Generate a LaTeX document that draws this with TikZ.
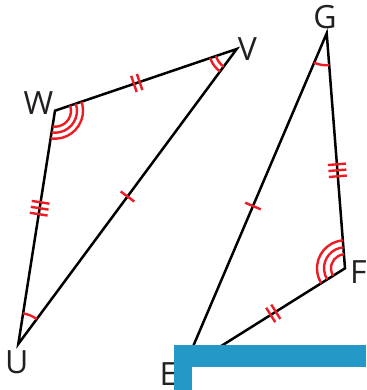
\documentclass[tikz,border=0pt]{standalone}
\usepackage{fontspec}
\setmainfont{Open Sans}
\usetikzlibrary{calc,angles}
\definecolor{mred}{RGB}{237,28,36}
\definecolor{mblue}{RGB}{36,153,199}
\definecolor{mtext}{RGB}{35,31,32}
% #1,#2 segment ends, #3 fraction, #4 shift along, #5 half length
\newcommand{\mytick}[5]{\draw[tickst] ($(#1)!#3!(#2)!#4!(#2)!#5!90:(#2)$) -- ($(#1)!#3!(#2)!#4!(#2)!#5!-90:(#2)$);}
\begin{document}
\begin{tikzpicture}[x=1pt,y=-1pt,
  tickst/.style={draw=mred, line width=2.4pt},
  edge/.style={draw=black, line width=2.5pt, line join=miter},
  arcst/.style={draw=mred, line width=2.4pt},
  lbl/.style={text=mtext, inner sep=0pt, font=\fontsize{32}{38}\selectfont}]
\useasboundingbox (0,0) rectangle (366,390);
\coordinate (W) at (55,110.7);
\coordinate (V) at (236.7,49);
\coordinate (U) at (18.3,344);
\coordinate (G) at (326.7,33.3);
\coordinate (F) at (345,268.3);
\coordinate (E) at (183,370);
% triangles
\draw[edge] (W) -- (V) -- (U) -- cycle;
\draw[edge] (G) -- (F) -- (E) -- cycle;
% angle marks
\pic[arcst, angle radius=16pt] {angle=U--W--V};
\pic[arcst, angle radius=22pt] {angle=U--W--V};
\pic[arcst, angle radius=28pt] {angle=U--W--V};
\pic[arcst, angle radius=22pt] {angle=W--V--U};
\pic[arcst, angle radius=28pt] {angle=W--V--U};
\pic[arcst, angle radius=31pt] {angle=V--U--W};
\pic[arcst, angle radius=32pt] {angle=E--G--F};
\pic[arcst, angle radius=14pt] {angle=G--F--E};
\pic[arcst, angle radius=21pt] {angle=G--F--E};
\pic[arcst, angle radius=28pt] {angle=G--F--E};
% tick marks
\mytick{U}{V}{0.5}{0pt}{8.5pt}
\mytick{W}{V}{0.45}{-3pt}{8.5pt}
\mytick{W}{V}{0.45}{3pt}{8.5pt}
\mytick{W}{U}{0.418}{-6pt}{9pt}
\mytick{W}{U}{0.418}{0pt}{9pt}
\mytick{W}{U}{0.418}{6pt}{9pt}
\mytick{G}{E}{0.513}{0pt}{8.5pt}
\mytick{G}{F}{0.583}{-6pt}{9pt}
\mytick{G}{F}{0.583}{0pt}{9pt}
\mytick{G}{F}{0.583}{6pt}{9pt}
\mytick{F}{E}{0.443}{-3pt}{8.5pt}
\mytick{F}{E}{0.443}{3pt}{8.5pt}
% labels
\node[lbl] (lW) at (38.5,103.3) {W};
\node[lbl] (lV) at (247.5,48.7) {V};
\node[lbl] (lU) at (16.7,362.5) {U};
\node[lbl] (lG) at (325,17.5) {G};
\node[lbl] (lF) at (358.5,271.7) {F};
\node[lbl, anchor=west] (lE) at (159.5,374.5) {E};
% blue bar
\fill[mblue] (174,345) rectangle (366,390);
\fill[white] (192.3,366.7) rectangle (366,390);
\end{tikzpicture}
\end{document}
